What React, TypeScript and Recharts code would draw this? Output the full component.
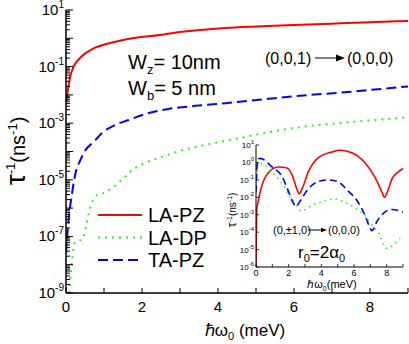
import React from "react";
import { LineChart, Line, XAxis, YAxis, Legend } from "recharts";

const FONT = "'Liberation Sans', Arial, Helvetica, sans-serif";

// main panel: (0,0,1) -> (0,0,0), x = hbar*omega0 (meV), y = 1/tau (ns^-1)
const mainLaPz: [number, number][] = [
  [0, 4.4e-3], [0.05, 0.015], [0.11, 0.044], [0.2, 0.1], [0.38, 0.21],
  [0.7, 0.42], [1.16, 0.68], [1.6, 0.93], [2.47, 1.32],
  [3, 1.66], [4.2, 2.3], [5, 2.6], [6, 2.95], [7, 3.3], [8, 3.7], [9, 4.1],
];
const mainLaDp: [number, number][] = [
  [0.08, 1e-9], [0.12, 4e-9], [0.17, 2e-8], [0.22, 5.5e-8], [0.3, 7e-8],
  [0.42, 7.5e-8], [0.51, 1.7e-7], [0.6, 6.8e-7], [0.68, 1.5e-6], [0.82, 2.9e-6],
  [0.99, 3.4e-6], [1.21, 5.1e-6], [1.47, 1e-5], [1.74, 2.2e-5], [2.09, 4e-5],
  [2.53, 6.5e-5], [3.05, 1.1e-4], [3.66, 1.7e-4], [4.28, 2.5e-4], [6, 6.8e-4],
  [7.5, 1.1e-3], [9, 1.6e-3],
];
const mainTaPz: [number, number][] = [
  [0, 2.5e-8], [0.05, 2.1e-7], [0.16, 3.4e-6], [0.25, 1.7e-5], [0.38, 5e-5],
  [0.51, 1.1e-4], [0.73, 2.2e-4], [0.95, 4.5e-4], [1.3, 8.7e-4], [1.65, 1.3e-3],
  [2.18, 2.3e-3], [2.7, 3.2e-3], [3.4, 4.1e-3], [4.2, 5.1e-3], [6, 8.9e-3],
  [7.5, 1.3e-2], [9, 2e-2],
];

// inset: (0,±1,0) -> (0,0,0), r0 = 2a0
const insetLaPz: [number, number][] = [
  [0, 1e-6], [0.02, 1e-4], [0.05, 2e-3], [0.12, 5e-3], [0.37, 0.05],
  [0.74, 0.25], [1.35, 0.55], [1.9, 0.48], [2.2, 0.2], [2.5, 0.03],
  [2.64, 0.016], [2.82, 0.03], [3.2, 0.28], [3.8, 1.8], [4.66, 4],
  [5.15, 5], [5.9, 3.5], [6.7, 0.9], [7.3, 0.13], [7.73, 0.018],
  [7.85, 0.01], [8.04, 0.02], [8.34, 0.12], [8.7, 0.28], [9, 0.45],
];
const insetLaDp: [number, number][] = [
  [0, 0.015], [0.06, 0.3], [0.12, 0.9], [0.55, 0.7], [0.98, 0.28],
  [1.35, 0.12], [1.78, 0.034], [2.09, 0.01], [2.4, 0.0047], [2.76, 0.0016],
  [3.44, 0.0035], [4.23, 0.0063], [4.85, 0.008], [5.46, 0.005], [6.07, 0.0025],
  [6.7, 8e-4], [7.1, 2.5e-4], [7.5, 9e-5], [7.98, 1.2e-5], [8.4, 1.8e-5],
  [8.83, 4.5e-5], [9, 5.5e-5],
];
const insetTaPz: [number, number][] = [
  [0, 0.02], [0.06, 0.5], [0.15, 1.6], [0.25, 1.7], [0.98, 0.55],
  [1.6, 0.15], [1.96, 0.025], [2.27, 0.005], [2.45, 0.003], [2.7, 0.006],
  [3.13, 0.025], [3.8, 0.08], [4.4, 0.1], [5.0, 0.08], [5.6, 0.025],
  [6.26, 0.005], [6.7, 8e-4], [7.0, 1.6e-4], [7.1, 1.2e-4], [7.4, 4e-4],
  [7.8, 1.2e-3], [8.34, 2e-3], [9, 1.4e-3],
];

const mainDecades = [-9, -8, -7, -6, -5, -4, -3, -2, -1, 0, 1];
const insetDecades = [-6, -5, -4, -3, -2, -1, 0, 1];
const xTicks = [0, 1, 2, 3, 4, 5, 6, 7, 8, 9];

const series = [
  { name: "LA-PZ", color: "#ff0000", dash: undefined as string | undefined, insetDash: undefined as string | undefined },
  { name: "LA-DP", color: "#33ee22", dash: "2 5", insetDash: "1.6 4" },
  { name: "TA-PZ", color: "#0000ff", dash: "10 5", insetDash: "7 4" },
];

const pts = (a: [number, number][]) => a.map(([x, y]) => ({ x, y }));

// decades plus 2..9 minor ticks
const mainYTicks: number[] = [];
mainDecades.forEach((d) => {
  const steps = d === 1 ? [1] : [1, 2, 3, 4, 5, 6, 7, 8, 9];
  steps.forEach((m) => mainYTicks.push(Number((m * Math.pow(10, d)).toPrecision(3))));
});
const insetYTicks = insetDecades.map((d) => Math.pow(10, d));

function MainYTick(props: any) {
  const { x, y, payload } = props;
  const e = Math.log10(payload.value);
  const exp = Math.round(e);
  const major = Math.abs(e - exp) < 1e-6;
  return (
    <g>
      <line x1={x} x2={x + (major ? 7 : 4)} y1={y} y2={y} stroke="#000" strokeWidth={1} />
      {major && exp % 2 !== 0 && (
        <text x={x - 2} y={y + 5} textAnchor="end" fontSize={15} fontFamily={FONT} fill="#000">
          <tspan>10</tspan>
          <tspan fontSize={10} dy={-7}>{exp}</tspan>
        </text>
      )}
    </g>
  );
}

function MainXTick(props: any) {
  const { x, y, payload } = props;
  return (
    <g>
      <line x1={x} x2={x} y1={y} y2={y - 5} stroke="#000" strokeWidth={1} />
      {payload.value % 2 === 0 && (
        <text x={x} y={y + 19} textAnchor="middle" fontSize={15} fontFamily={FONT} fill="#000">
          {payload.value}
        </text>
      )}
    </g>
  );
}

function InsetYTick(props: any) {
  const { x, y, payload } = props;
  const exp = Math.round(Math.log10(payload.value));
  return (
    <g>
      <line x1={x} x2={x + 3} y1={y} y2={y} stroke="#000" strokeWidth={0.8} />
      <text x={x - 2} y={y + 3} textAnchor="end" fontSize={8} fontFamily={FONT} fill="#000">
        <tspan>10</tspan>
        <tspan fontSize={6} dy={-4}>{exp}</tspan>
      </text>
    </g>
  );
}

function InsetXTick(props: any) {
  const { x, y, payload } = props;
  return (
    <g>
      <line x1={x} x2={x} y1={y} y2={y - 3} stroke="#000" strokeWidth={0.8} />
      {payload.value % 2 === 0 && (
        <text x={x} y={y + 9} textAnchor="middle" fontSize={9} fontFamily={FONT} fill="#000">
          {payload.value}
        </text>
      )}
    </g>
  );
}

const renderLegend = () => (
  <svg width={130} height={70}>
    {series.map((s, i) => (
      <g key={s.name}>
        <line x1={3} x2={47} y1={12 + i * 22.5} y2={12 + i * 22.5} stroke={s.color}
          strokeWidth={2.2} strokeDasharray={s.dash} />
        <text x={53} y={19 + i * 22.5} fontSize={20} fontFamily={FONT} fill="#000">{s.name}</text>
      </g>
    ))}
  </svg>
);

function Arrow({ x1, x2, y, head }: { x1: number; x2: number; y: number; head: number }) {
  return (
    <g>
      <line x1={x1} x2={x2 - head} y1={y} y2={y} stroke="#000" strokeWidth={1} />
      <polygon points={`${x2},${y} ${x2 - head},${y - head / 2.6} ${x2 - head},${y + head / 2.6}`} fill="#000" />
    </g>
  );
}

export default function App() {
  const mainData = [mainLaPz, mainLaDp, mainTaPz];
  const insetData = [insetLaPz, insetLaDp, insetTaPz];
  return (
    <div style={{ position: "fixed", left: 0, top: 0, width: 409, height: 344, background: "#fff", overflow: "hidden" }}>
      <LineChart width={409} height={344} margin={{ top: 10, right: 1, bottom: 0, left: 0 }}>
        <XAxis dataKey="x" type="number" domain={[0, 9]} ticks={xTicks} interval={0}
          allowDataOverflow height={51} tickSize={0} tickMargin={0} tickLine={false}
          tick={<MainXTick />} axisLine={{ stroke: "#000", strokeWidth: 1.5 }} />
        <XAxis xAxisId="top" orientation="top" type="number" domain={[0, 9]} height={0}
          tick={false} tickLine={false} axisLine={{ stroke: "#000", strokeWidth: 1.5 }} />
        <YAxis type="number" scale="log" domain={[1e-9, 10]} ticks={mainYTicks} interval={0}
          allowDataOverflow width={66} tickSize={0} tickMargin={0} tickLine={false}
          tick={<MainYTick />} axisLine={{ stroke: "#000", strokeWidth: 1.5 }} />
        <YAxis yAxisId="right" orientation="right" type="number" domain={[0, 1]} width={0}
          tick={false} tickLine={false} axisLine={{ stroke: "#000", strokeWidth: 1.5 }} />
        {series.map((s, i) => (
          <Line key={s.name} data={pts(mainData[i])} dataKey="y" name={s.name} type="monotone"
            stroke={s.color} strokeWidth={2} strokeDasharray={s.dash} dot={false}
            isAnimationActive={false} />
        ))}
        <Legend layout="vertical" align="center" verticalAlign="middle" content={renderLegend}
          wrapperStyle={{ left: 95, top: 203, width: 130, height: 70 }} />
      </LineChart>

      <div style={{ position: "absolute", left: 226, top: 138 }}>
        <LineChart width={182} height={155} margin={{ top: 7, right: 5, bottom: 0, left: 0 }}>
          <XAxis dataKey="x" type="number" domain={[0, 9]} ticks={xTicks} interval={0}
            allowDataOverflow height={26} tickSize={0} tickMargin={0} tickLine={false}
            tick={<InsetXTick />} axisLine={{ stroke: "#000", strokeWidth: 1 }} />
          <XAxis xAxisId="top" orientation="top" type="number" domain={[0, 9]} height={0}
            tick={false} tickLine={false} axisLine={{ stroke: "#666", strokeWidth: 1 }} />
          <YAxis type="number" scale="log" domain={[1e-6, 10]} ticks={insetYTicks} interval={0}
            allowDataOverflow width={30} tickSize={0} tickMargin={0} tickLine={false}
            tick={<InsetYTick />} axisLine={{ stroke: "#000", strokeWidth: 1 }} />
          <YAxis yAxisId="right" orientation="right" type="number" domain={[0, 1]} width={0}
            tick={false} tickLine={false} axisLine={{ stroke: "#666", strokeWidth: 1 }} />
          {series.map((s, i) => (
            <Line key={s.name} data={pts(insetData[i])} dataKey="y" name={s.name} type="monotone"
              stroke={s.color} strokeWidth={1.6} strokeDasharray={s.insetDash}
              dot={false} isAnimationActive={false} />
          ))}
        </LineChart>
      </div>

      <svg width={409} height={344} style={{ position: "absolute", left: 0, top: 0, pointerEvents: "none" }}
        fontFamily={FONT} fill="#000">
        {/* main axis titles */}
        <text transform="translate(25,151) rotate(-90)" textAnchor="middle" fontSize={20}>
          <tspan fontSize={28}>τ</tspan>
          <tspan fontSize={13} dy={-10}>-1</tspan>
          <tspan dy={10}>(ns</tspan>
          <tspan fontSize={13} dy={-8}>-1</tspan>
          <tspan dy={8}>)</tspan>
        </text>
        <text x={245} y={336} textAnchor="middle" fontSize={17}>
          <tspan>ℏω</tspan>
          <tspan fontSize={11} dy={4}>0</tspan>
          <tspan dy={-4}> (meV)</tspan>
        </text>
        {/* well widths */}
        <text x={128} y={69} fontSize={20}>
          <tspan>W</tspan>
          <tspan fontSize={13} dy={5}>z</tspan>
          <tspan dy={-5}>= 10nm</tspan>
        </text>
        <text x={128} y={95} fontSize={20}>
          <tspan>W</tspan>
          <tspan fontSize={13} dy={5}>b</tspan>
          <tspan dy={-5}>= 5 nm</tspan>
        </text>
        <text x={265} y={64} fontSize={16}>(0,0,1)</text>
        <Arrow x1={315} x2={345} y={58} head={9} />
        <text x={347} y={64} fontSize={16}>(0,0,0)</text>

        {/* inset titles */}
        <text transform="translate(236,210) rotate(-90)" textAnchor="middle" fontSize={10}>
          <tspan fontSize={13}>τ</tspan>
          <tspan fontSize={7} dy={-4}>-1</tspan>
          <tspan dy={4}>(ns</tspan>
          <tspan fontSize={7} dy={-4}>-1</tspan>
          <tspan dy={4}>)</tspan>
        </text>
        <text x={332} y={288} textAnchor="middle" fontSize={11}>
          <tspan>ℏω</tspan>
          <tspan fontSize={7} dy={3}>0</tspan>
          <tspan dy={-3}>(meV)</tspan>
        </text>
        <text x={273} y={234} fontSize={11}>(0,±1,0)</text>
        <Arrow x1={308} x2={327} y={230} head={6} />
        <text x={328} y={234} fontSize={11}>(0,0,0)</text>
        <text x={298} y={258} fontSize={17}>
          <tspan>r</tspan>
          <tspan fontSize={11} dy={4}>0</tspan>
          <tspan dy={-4}>=2α</tspan>
          <tspan fontSize={11} dy={4}>0</tspan>
        </text>
      </svg>
    </div>
  );
}
